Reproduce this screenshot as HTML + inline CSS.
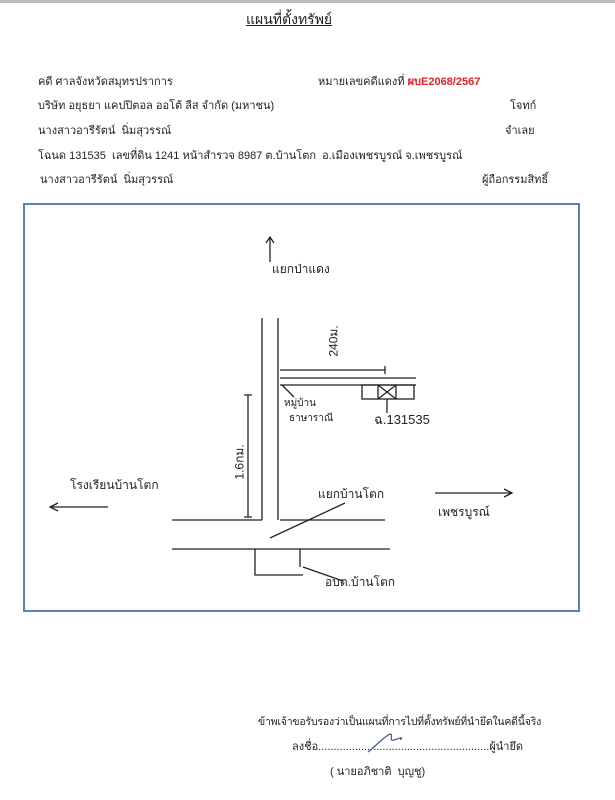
<!DOCTYPE html>
<html><head><meta charset="utf-8"><style>
body{margin:0;width:615px;height:800px;background:#fff;position:relative;overflow:hidden;font-family:"Liberation Sans","Noto Sans CJK SC",sans-serif;font-size:11px;color:#222}
.t{position:absolute;white-space:nowrap;line-height:14px}
</style></head><body>
<div style="position:absolute;left:0;top:0;width:615px;height:3px;background:#bbb"></div>
<div class="t" style="left:246px;top:12px;font-size:14px;text-decoration:underline">แผนที่ตั้งทรัพย์</div>
<div class="t" style="left:38px;top:75px">คดี ศาลจังหวัดสมุทรปราการ</div>
<div class="t" style="left:318px;top:75px">หมายเลขคดีแดงที่ <b style="color:#e0242c">ผบE2068/2567</b></div>
<div class="t" style="left:38px;top:99px">บริษัท อยุธยา แคปปิตอล ออโต้ ลีส จำกัด (มหาชน)</div>
<div class="t" style="left:510px;top:99px">โจทก์</div>
<div class="t" style="left:38px;top:124px">นางสาวอารีรัตน์&nbsp; นิ่มสุวรรณ์</div>
<div class="t" style="left:505px;top:124px">จำเลย</div>
<div class="t" style="left:38px;top:149px">โฉนด 131535&nbsp; เลขที่ดิน 1241 หน้าสำรวจ 8987 ต.บ้านโตก&nbsp; อ.เมืองเพชรบูรณ์ จ.เพชรบูรณ์</div>
<div class="t" style="left:40px;top:173px">นางสาวอารีรัตน์&nbsp; นิ่มสุวรรณ์</div>
<div class="t" style="left:482px;top:173px">ผู้ถือกรรมสิทธิ์</div>
<div style="position:absolute;left:23px;top:203px;width:553px;height:405px;border:2px solid #5b7fb8"></div>
<svg width="615" height="800" style="position:absolute;left:0;top:0" stroke="#222" stroke-width="1.3" fill="none">
<path d="M270 262V237M266 243l4-6 4 6"/>
<path d="M262 318V520M278 318V520"/>
<path d="M280 378H416M280 385H416M282 385l12 12"/>
<path d="M280 370H385M385 366v8"/>
<rect x="362" y="385" width="52" height="14"/><path d="M378 385v14M396 385v14M378 385l18 14M396 385l-18 14M387 399v14"/>
<path d="M248 395V517M244 395h8M244 517h8"/>
<path d="M172 520H262M280 520H385M172 549H390"/>
<path d="M255 549v26h48M300 549v18M303 567l40 14"/>
<path d="M270 538l75-35"/>
<path d="M50 507H108M58 503l-8 4 8 4"/>
<path d="M435 493H512M504 489l8 4-8 4"/>
</svg>
<div class="t" style="left:272px;top:262px;font-size:12px">แยกป่าแดง</div>
<div class="t" style="left:318px;top:334px;font-size:12px;transform:rotate(-90deg)">240ม.</div>
<div class="t" style="left:222px;top:455px;font-size:12px;transform:rotate(-90deg)">1.6กม.</div>
<div class="t" style="left:284px;top:397px;font-size:10px">หมู่บ้าน</div>
<div class="t" style="left:289px;top:412px;font-size:10px">ธาษาราณี</div>
<div class="t" style="left:374px;top:413px;font-size:13px">ฉ.131535</div>
<div class="t" style="left:70px;top:478px;font-size:12px">โรงเรียนบ้านโตก</div>
<div class="t" style="left:318px;top:487px;font-size:12px">แยกบ้านโตก</div>
<div class="t" style="left:438px;top:505px;font-size:12px">เพชรบูรณ์</div>
<div class="t" style="left:325px;top:575px;font-size:12px">อบต.บ้านโตก</div>
<div class="t" style="left:258px;top:715px;font-size:10.5px;letter-spacing:-0.2px">ข้าพเจ้าขอรับรองว่าเป็นแผนที่การไปที่ตั้งทรัพย์ที่นำยึดในคดีนี้จริง</div>
<div class="t" style="left:292px;top:740px">ลงชื่อ........................................................ผู้นำยึด</div>
<div class="t" style="left:330px;top:765px">( นายอภิชาติ&nbsp; บุญชู)</div>
<svg width="615" height="800" style="position:absolute;left:0;top:0" stroke="#3a4fa0" stroke-width="1.2" fill="none">
<path d="M368 752c6-4 14-14 22-18 4 0 -2 8 4 6 6-2 10-4 6 0"/>
</svg>
</body></html>
